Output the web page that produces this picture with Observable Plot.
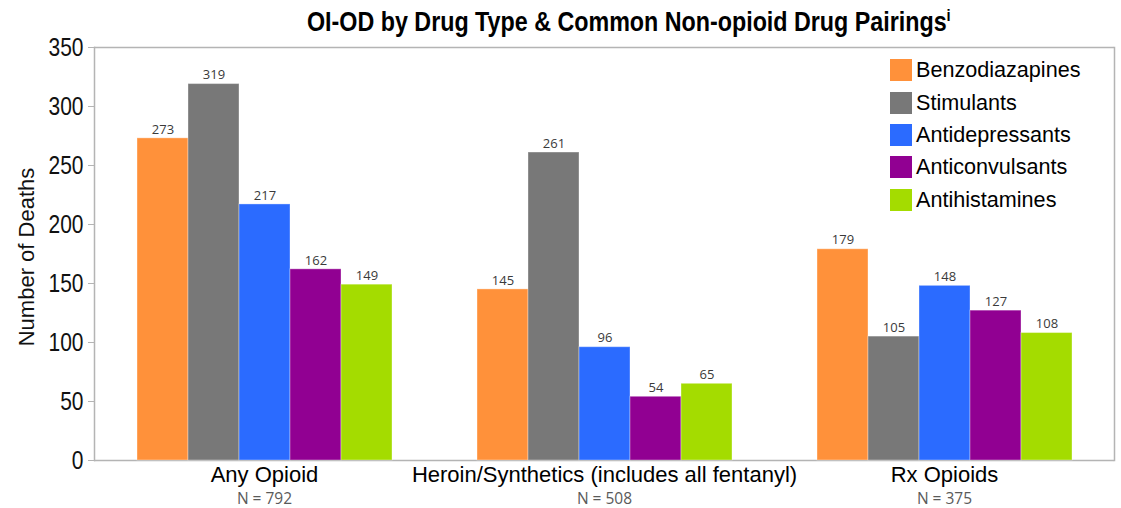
<!DOCTYPE html>
<html>
<head>
<meta charset="utf-8">
<script src="https://cdn.jsdelivr.net/npm/d3@7"></script>
<script src="https://cdn.jsdelivr.net/npm/@observablehq/plot@0.6"></script>
<style>
  html, body { margin: 0; padding: 0; background: #fff; }
  #chart { position: relative; width: 1121px; height: 508px; overflow: hidden; }
  #title {
    position: absolute; left: 307px; top: 7px; white-space: nowrap;
    font-family: "Liberation Sans", Arial, sans-serif;
    font-weight: bold; font-size: 27px; color: #000;
    transform: scaleX(0.862); transform-origin: left top;
  }
  #title sup { font-size: 17px; vertical-align: 10px; line-height: 0; }
  #legend { position: absolute; left: 890px; top: 54px; }
  .row { display: flex; align-items: center; height: 32.4px; }
  .sw { width: 22px; height: 22px; margin-right: 4px; }
  .lab { font-family: "Liberation Sans", Arial, sans-serif; font-size: 21.6px; color: #000; }
</style>
</head>
<body>
<div id="chart">
  <div id="title">OI-OD by Drug Type &amp; Common Non-opioid Drug Pairings<sup>i</sup></div>
  <div id="legend"></div>
</div>
<script>
// Opioid groups and their totals
const groups = ["Any Opioid", "Heroin/Synthetics (includes all fentanyl)", "Rx Opioids"];
const groupTotals = [792, 508, 375];

// Non-opioid drug classes paired with the opioid deaths
const drugs = ["Benzodiazapines", "Stimulants", "Antidepressants", "Anticonvulsants", "Antihistamines"];
const drugColors = ["#ff913a", "#787878", "#2b6bff", "#910092", "#a4dc00"];

// Number of deaths per drug class, one array per opioid group
const anyOpioid = [273, 319, 217, 162, 149];
const heroinSynthetics = [145, 261, 96, 54, 65];
const rxOpioids = [179, 105, 148, 127, 108];

const yTicks = [0, 50, 100, 150, 200, 250, 300, 350];
const yLabel = "Number of Deaths";

const seriesByGroup = [anyOpioid, heroinSynthetics, rxOpioids];
const rows = groups.flatMap((g, i) =>
  drugs.map((d, j) => ({ group: g, drug: d, deaths: seriesByGroup[i][j] }))
);
const groupRows = groups.map((g, i) => ({ group: g, n: `N = ${groupTotals[i]}` }));

const frameColor = "#b4b4b4";

const chart = Plot.plot({
  width: 1121,
  height: 508,
  marginTop: 47,
  marginBottom: 48,
  marginLeft: 94,
  marginRight: 7,
  style: { background: "transparent", fontFamily: "Liberation Sans, Arial, sans-serif" },
  fx: { domain: groups, paddingInner: 0, paddingOuter: 0, axis: null },
  x: { domain: drugs, paddingInner: 0, paddingOuter: 0.833, axis: null },
  y: { domain: [0, 350], axis: null },
  color: { domain: drugs, range: drugColors },
  marks: [
    Plot.ruleY([0, 350], { stroke: frameColor, strokeWidth: 1.5 }),
    Plot.frame({ anchor: "left", facetAnchor: "left", stroke: frameColor, strokeWidth: 1.5 }),
    Plot.frame({ anchor: "right", facetAnchor: "right", stroke: frameColor, strokeWidth: 1.5 }),
    Plot.barY(rows, {
      fx: "group", x: "drug", y: "deaths", fill: "drug",
      stroke: "#ffffff", strokeOpacity: 0.35, strokeWidth: 1
    }),
    Plot.text(rows, {
      fx: "group", x: "drug", y: "deaths", text: d => String(d.deaths),
      dy: -9, fontSize: 13, fill: "#3a3a3a",
      fontFamily: "Open Sans, Noto Sans, sans-serif"
    }),
    Plot.axisY({
      ticks: yTicks, tickSize: 6, tickPadding: 5, label: null,
      stroke: frameColor, fill: "#111", fontSize: 25,
      fontFamily: "Liberation Sans, Arial, sans-serif"
    }),
    Plot.text([{ group: groups[0], label: yLabel }], {
      fx: "group", text: "label", frameAnchor: "left", textAnchor: "middle",
      rotate: -90, dx: -68, dy: 3, fontSize: 22, fill: "#111"
    }),
    Plot.text(groupRows, {
      fx: "group", text: "group", frameAnchor: "bottom",
      dy: 21, fontSize: 22, fill: "#000"
    }),
    Plot.text(groupRows, {
      fx: "group", text: "n", frameAnchor: "bottom",
      dy: 43, fontSize: 15.5, fill: "#5a5a5a",
      fontFamily: "Open Sans, Noto Sans, sans-serif"
    })
  ]
});

const container = document.getElementById("chart");
container.insertBefore(chart, container.firstChild);

// Narrow the y tick numerals horizontally (right edge stays put with text-anchor end)
d3.select(chart).selectAll("g[aria-label='y-axis tick label'] text").each(function () {
  const t = this.getAttribute("transform") || "";
  this.setAttribute("transform", `${t} scale(0.84,1)`);
});

// Legend drawn inside the plot area, top right
const legend = d3.select("#legend");
drugs.forEach((d, i) => {
  const row = legend.append("div").attr("class", "row");
  row.append("div").attr("class", "sw").style("background", drugColors[i]);
  row.append("div").attr("class", "lab").text(d);
});
</script>
</body>
</html>
